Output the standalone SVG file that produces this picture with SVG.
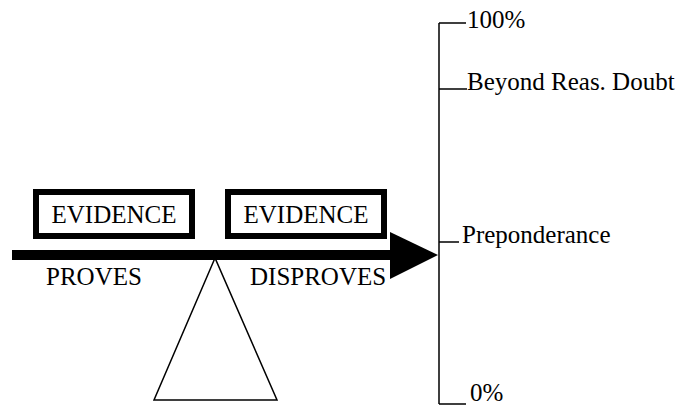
<svg xmlns="http://www.w3.org/2000/svg" width="678" height="407" viewBox="0 0 678 407">
<style>
text{font-family:"Liberation Serif","Times New Roman",serif;fill:#000;font-size:25px}
.box{fill:#fff;stroke:#000;stroke-width:6}
.ln{stroke:#000;stroke-width:1.5;fill:none}
</style>
<rect width="678" height="407" fill="#fff"/>
<g id="scale">
<path class="ln" d="M439,23 V404 M439,23 H466 M439,89 H467 M439,242 H459 M439,404 H466"/>
<text x="467" y="28">100%</text>
<text x="467" y="90">Beyond Reas. Doubt</text>
<text x="462" y="243">Preponderance</text>
<text x="470" y="401">0%</text>
</g>
<g id="fulcrum">
<polygon points="215,258 154,400 277,400" fill="#fff" stroke="#000" stroke-width="1.5"/>
</g>
<g id="connectors">
<rect x="12" y="250" width="380" height="10" fill="#000"/>
<polygon points="390,232 438,255 390,279" fill="#000"/>
</g>
<g id="evidence1">
<rect class="box" x="36" y="192" width="156" height="44"/>
<text x="114" y="223" text-anchor="middle">EVIDENCE</text>
</g>
<g id="evidence2">
<rect class="box" x="228" y="192" width="156" height="44"/>
<text x="306" y="223" text-anchor="middle">EVIDENCE</text>
</g>
<g id="proves"><text x="46" y="285">PROVES</text></g>
<g id="disproves"><text x="250" y="285">DISPROVES</text></g>
</svg>
